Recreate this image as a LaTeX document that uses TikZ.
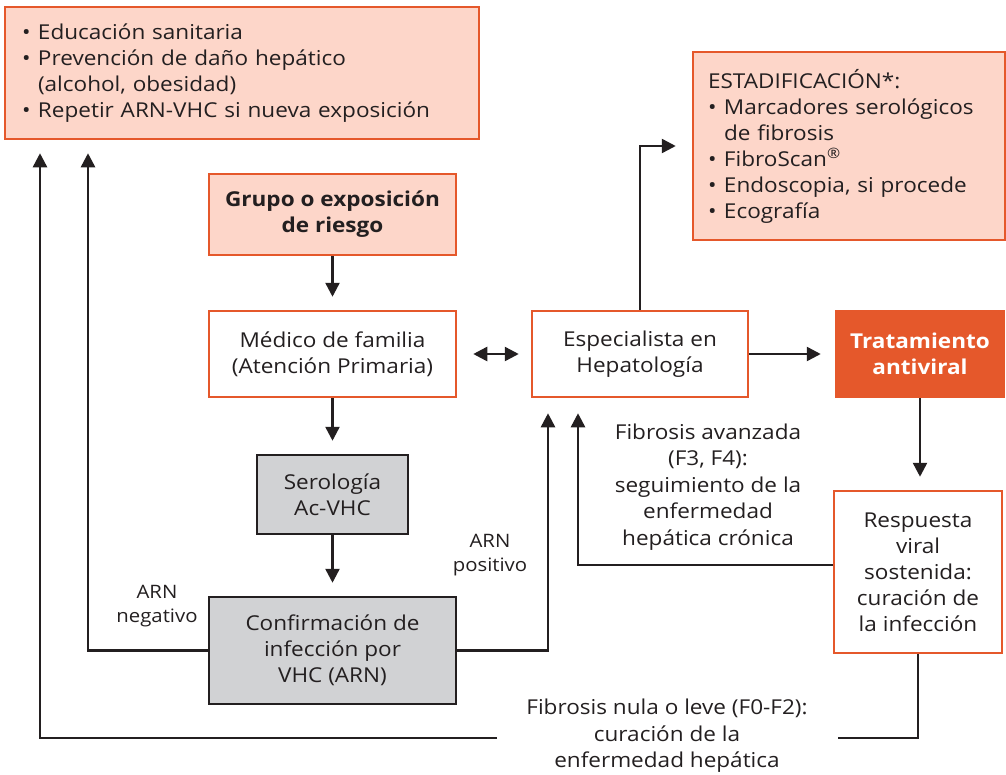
\documentclass[tikz,border=0pt]{standalone}
\usepackage{fontspec}
\setmainfont{Open Sans}[FakeStretch=1.1]
\usetikzlibrary{arrows.meta}
\definecolor{naranja}{HTML}{E5582B}
\definecolor{rosa}{HTML}{FDD6C9}
\definecolor{gris}{HTML}{D1D2D4}
\definecolor{oscuro}{HTML}{231F20}
\newcommand{\bul}{\makebox[16pt][l]{•}}
\newcommand{\sangria}{\hspace*{16pt}}
\tikzset{
  caja/.style={draw=naranja, line width=2.5pt, fill=white, align=center, inner sep=0pt, text=oscuro,
    font=\fontsize{20.5}{26}\selectfont},
  cajarosa/.style={caja, fill=rosa},
  cajagris/.style={caja, draw=oscuro, fill=gris},
  etiqueta/.style={align=center, text=oscuro, font=\fontsize{20.5}{26.5}\selectfont},
  conector/.style={draw=oscuro, line width=2.5pt},
  flecha/.style={conector, -{Triangle[length=14pt,width=14pt]}, shorten >=13pt},
}
\begin{document}
\begin{tikzpicture}[x=1pt,y=-1pt]
  \useasboundingbox (0,0) rectangle (1006,774);
  % cajas
  \node[cajarosa, minimum width=474pt, minimum height=132pt, text width=440pt, align=left] (prevencion) at (242,73)
    {\bul Educación sanitaria\\ \bul Prevención de daño hepático\\ \sangria(alcohol, obesidad)\\ \bul Repetir ARN-VHC si nueva exposición};
  \node[cajarosa, minimum width=312pt, minimum height=188pt, text width=282pt, align=left] (estadificacion) at (849,146)
    {ESTADIFICACIÓN*:\\ \bul Marcadores serológicos\\ \sangria de fibrosis\\ \bul FibroScan\textsuperscript{®}\\ \bul Endoscopia, si procede\\ \bul Ecografía};
  \node[cajarosa, minimum width=247pt, minimum height=81pt, font=\fontsize{20.5}{26}\selectfont\bfseries] (grupo) at (332.5,214.5)
    {Grupo o exposición\\ de riesgo};
  \node[caja, minimum width=247pt, minimum height=86pt] (medico) at (332.5,354) {Médico de familia\\ (Atención Primaria)};
  \node[caja, minimum width=216pt, minimum height=86pt] (especialista) at (640,354) {Especialista en\\ Hepatología};
  \node[caja, fill=naranja, text=white, minimum width=168pt, minimum height=86pt, font=\fontsize{20.5}{26}\selectfont\bfseries] (tratamiento) at (920,354)
    {Tratamiento\\ antiviral};
  \node[cajagris, minimum width=151pt, minimum height=79pt] (serologia) at (332.5,494.5) {Serología\\ Ac-VHC};
  \node[cajagris, minimum width=247pt, minimum height=107pt] (confirmacion) at (332.5,650.5) {Confirmación de\\ infección por\\ VHC (ARN)};
  \node[caja, minimum width=168pt, minimum height=162pt] (respuesta) at (918,572) {Respuesta\\ viral\\ sostenida:\\ curación de\\ la infección};
  % textos sueltos
  \node[etiqueta, font=\fontsize{18.5}{24}\selectfont] (negativo) at (157,606) {ARN\\ negativo};
  \node[etiqueta, font=\fontsize{18.5}{24}\selectfont] (positivo) at (490,555) {ARN\\ positivo};
  \node[etiqueta] (avanzada) at (708,487) {Fibrosis avanzada\\ (F3, F4):\\ seguimiento de la\\ enfermedad\\ hepática crónica};
  \node[etiqueta] (nula) at (667,736) {Fibrosis nula o leve (F0-F2):\\ curación de la\\ enfermedad hepática};
  \coordinate (cortader) at (838,738);
  \coordinate (cortaizq) at (497,738);
  % flechas
  \draw[flecha] (grupo) -- (medico);
  \draw[flecha] (medico) -- (serologia);
  \draw[flecha] (serologia) -- (confirmacion);
  \draw[flecha, {Triangle[length=14pt,width=14pt]}-{Triangle[length=14pt,width=14pt]}, shorten <=16pt, shorten >=12pt] (medico) -- (especialista);
  \draw[flecha, shorten >=14pt] (especialista) -- (tratamiento);
  \draw[flecha, shorten >=16pt] (especialista.north) |- (estadificacion.west);
  \draw[flecha] (tratamiento.south) -- (tratamiento.south |- respuesta.north);
  \draw[flecha, shorten >=15pt] ([yshift=7pt]respuesta.west) -| ([xshift=-62pt]especialista.south);
  \draw[flecha, shorten >=15pt] (confirmacion.east) -| ([xshift=-92pt]especialista.south);
  \draw[flecha] (confirmacion.west) -| ([xshift=-154pt]prevencion.south);
  \draw[conector] (respuesta.south) |- (cortader);
  \draw[flecha] (cortaizq) -| ([xshift=-202pt]prevencion.south);
\end{tikzpicture}
\end{document}
